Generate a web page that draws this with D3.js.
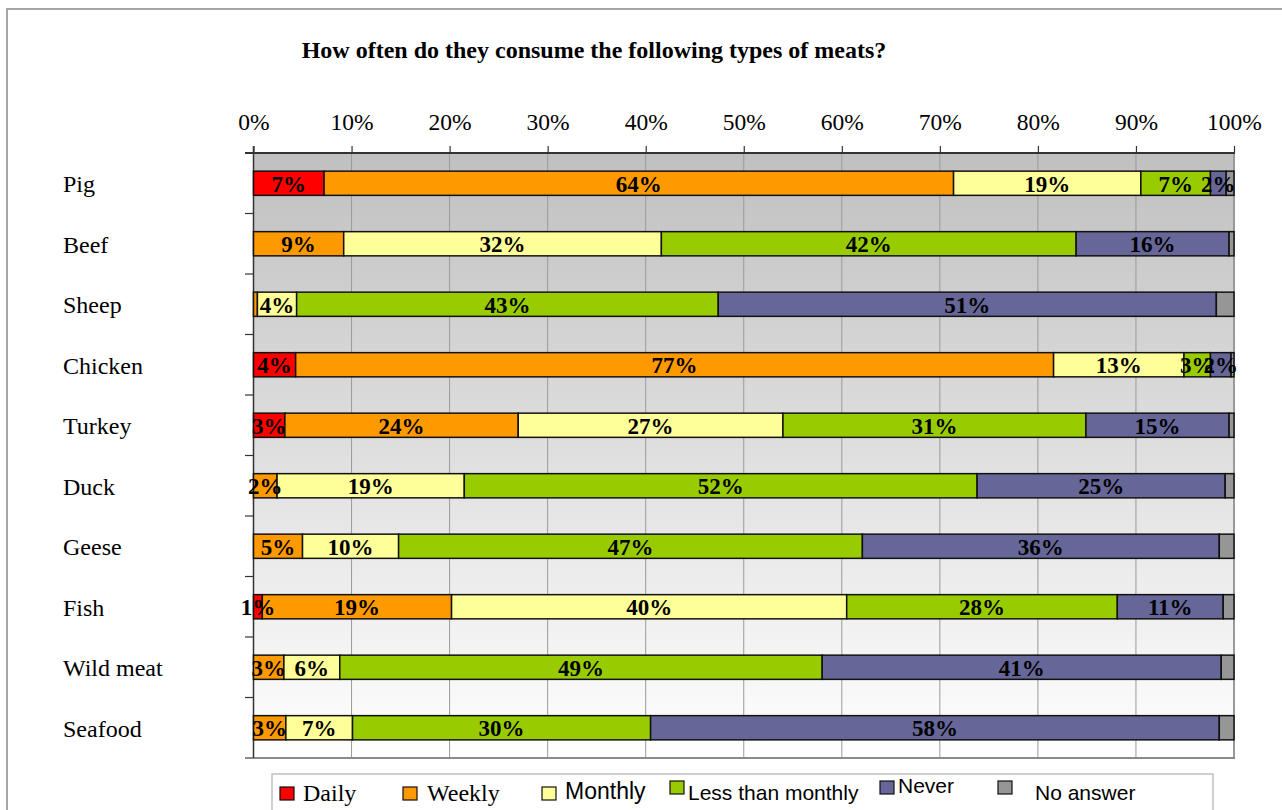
<!DOCTYPE html>
<html>
<head>
<meta charset="utf-8">
<script src="https://cdn.jsdelivr.net/npm/d3@7"></script>
<style>
  html, body { margin: 0; padding: 0; background: #fff; }
  svg { display: block; }
</style>
</head>
<body>
<svg id="chart" width="1282" height="810"></svg>
<script>
const title = "How often do they consume the following types of meats?";
const categories = ["Pig", "Beef", "Sheep", "Chicken", "Turkey", "Duck", "Geese", "Fish", "Wild meat", "Seafood"];
const seriesNames = ["Daily", "Weekly", "Monthly", "Less than monthly", "Never", "No answer"];
const daily           = [7.2, 0,    0,    4.3,  3.2,  0,    0,    0.9,  0,    0];
const weekly          = [64.2, 9.2, 0.4,  77.3, 23.8, 2.4,  5.0,  19.3, 3.1,  3.3];
const monthly         = [19.1, 32.4, 4.0, 13.3, 27.0, 19.1, 9.8,  40.3, 5.7,  6.8];
const lessThanMonthly = [7.1, 42.3, 43.0, 2.7,  30.9, 52.3, 47.3, 27.6, 49.2, 30.4];
const never           = [1.6, 15.6, 50.8, 2.1,  14.6, 25.3, 36.4, 10.8, 40.7, 58.0];
const noAnswer        = [0.8, 0.5,  1.8,  0.3,  0.5,  0.9,  1.5,  1.1,  1.3,  1.5];
const tickValues = [0, 10, 20, 30, 40, 50, 60, 70, 80, 90, 100];
const tickLabels = ["0%", "10%", "20%", "30%", "40%", "50%", "60%", "70%", "80%", "90%", "100%"];
const colors = ["#ff0000", "#ff9900", "#ffff99", "#99cc00", "#666699", "#969696"];

const seriesValues = [daily, weekly, monthly, lessThanMonthly, never, noAnswer];
const rows = categories.map((c, i) => {
  const r = { category: c };
  seriesNames.forEach((s, j) => { r[s] = seriesValues[j][i]; });
  return r;
});
const stacked = d3.stack().keys(seriesNames)(rows);

const svg = d3.select("#chart");
const serif = "'Liberation Serif', 'Times New Roman', serif";
const sans = "'Liberation Sans', Arial, sans-serif";

// outer frame
svg.append("path")
  .attr("d", "M7,812 L7,9 L1284,9")
  .attr("fill", "none").attr("stroke", "#a6a6a6").attr("stroke-width", 2);

const pLeft = 253.5, pRight = 1234, pTop = 153, pBottom = 758;
const x = d3.scaleLinear().domain([0, 100]).range([pLeft, pRight]);
const y = d3.scaleBand().domain(categories).range([pTop, pBottom]).paddingInner(0).paddingOuter(0);
const barH = y.bandwidth() * 0.4;

// plot background gradient
const defs = svg.append("defs");
const grad = defs.append("linearGradient").attr("id", "bg").attr("x1", 0).attr("y1", 0).attr("x2", 0).attr("y2", 1);
grad.append("stop").attr("offset", "0%").attr("stop-color", "#c0c0c0");
grad.append("stop").attr("offset", "100%").attr("stop-color", "#ffffff");
svg.append("rect").attr("x", pLeft).attr("y", pTop).attr("width", pRight - pLeft).attr("height", pBottom - pTop)
  .attr("fill", "url(#bg)");

// vertical gridlines
svg.append("g").selectAll("line").data(tickValues.slice(1, -1)).join("line")
  .attr("x1", d => x(d)).attr("x2", d => x(d)).attr("y1", pTop).attr("y2", pBottom)
  .attr("stroke", "#9a9a9a").attr("stroke-width", 1);

// title
svg.append("text").attr("x", 594).attr("y", 58).attr("text-anchor", "middle")
  .attr("font-family", serif).attr("font-weight", "bold").attr("font-size", 24)
  .text(title);

// top axis
const axisTop = d3.axisTop(x).tickValues(tickValues)
  .tickFormat((d, i) => tickLabels[i]).tickSize(7).tickSizeOuter(0).tickPadding(16);
const gx = svg.append("g").attr("transform", `translate(0,${pTop})`).call(axisTop);
gx.select(".domain").remove();
gx.selectAll(".tick line").attr("stroke", "#333").attr("stroke-width", 1.2);
gx.selectAll(".tick text").attr("font-family", serif).attr("font-size", 23.5).attr("fill", "#000");

// right and bottom frame
svg.append("line").attr("x1", pRight).attr("x2", pRight).attr("y1", pTop).attr("y2", pBottom)
  .attr("stroke", "#999").attr("stroke-width", 2);
svg.append("line").attr("x1", 245).attr("x2", pRight + 1).attr("y1", pBottom).attr("y2", pBottom)
  .attr("stroke", "#8a8a8a").attr("stroke-width", 2);
// top axis line
svg.append("line").attr("x1", 245).attr("x2", pRight + 1).attr("y1", pTop).attr("y2", pTop)
  .attr("stroke", "#333").attr("stroke-width", 2);
// left axis line and ticks at category boundaries
svg.append("line").attr("x1", pLeft).attr("x2", pLeft).attr("y1", pTop - 7).attr("y2", pBottom)
  .attr("stroke", "#333").attr("stroke-width", 1.5);
svg.append("g").selectAll("line").data(categories.slice(1)).join("line")
  .attr("x1", 245).attr("x2", pLeft).attr("y1", d => y(d)).attr("y2", d => y(d))
  .attr("stroke", "#333").attr("stroke-width", 1.2);

// category labels
svg.append("g").selectAll("text").data(categories).join("text")
  .attr("x", 63).attr("y", d => y(d) + y.bandwidth() / 2 + 9)
  .attr("font-family", serif).attr("font-size", 24).attr("fill", "#000")
  .text(d => d);

// bars
const gBars = svg.append("g");
stacked.forEach((layer, j) => {
  gBars.append("g").selectAll("rect").data(layer.filter(d => d[1] - d[0] > 0)).join("rect")
    .attr("x", d => x(d[0])).attr("width", d => x(d[1]) - x(d[0]))
    .attr("y", d => y(d.data.category) + (y.bandwidth() - barH) / 2)
    .attr("height", barH)
    .attr("fill", colors[j]).attr("stroke", "#111").attr("stroke-width", 1.5);
});
// value labels (not for "No answer")
const gLabels = svg.append("g");
stacked.forEach((layer, j) => {
  if (seriesNames[j] === "No answer") return;
  gLabels.append("g").selectAll("text").data(layer.filter(d => Math.round(d[1] - d[0]) >= 1)).join("text")
    .attr("x", d => (x(d[0]) + x(d[1])) / 2)
    .attr("y", d => y(d.data.category) + y.bandwidth() / 2 + 8.5)
    .attr("text-anchor", "middle")
    .attr("font-family", serif).attr("font-weight", "bold").attr("font-size", 23).attr("fill", "#000")
    .text(d => Math.round(d[1] - d[0]) + "%");
});

// legend
svg.append("rect").attr("x", 272).attr("y", 774).attr("width", 941).attr("height", 60)
  .attr("fill", "#fff").attr("stroke", "#c0c0c0").attr("stroke-width", 1.5);
const legendItems = [
  { sx: 280, sy: 787, tx: 303, ty: 801, font: serif, size: 24 },
  { sx: 403, sy: 787, tx: 427, ty: 801, font: serif, size: 24 },
  { sx: 542, sy: 787, tx: 565, ty: 799, font: sans, size: 23 },
  { sx: 670, sy: 781, tx: 688, ty: 800, font: sans, size: 21 },
  { sx: 880, sy: 781, tx: 898, ty: 793, font: sans, size: 21 },
  { sx: 998, sy: 781, tx: 1035, ty: 800, font: sans, size: 21 }
];
const gLeg = svg.append("g");
seriesNames.forEach((s, j) => {
  const it = legendItems[j];
  gLeg.append("rect").attr("x", it.sx).attr("y", it.sy).attr("width", 14).attr("height", 13)
    .attr("fill", colors[j]).attr("stroke", "#111").attr("stroke-width", 1.2);
  gLeg.append("text").attr("x", it.tx).attr("y", it.ty)
    .attr("font-family", it.font).attr("font-size", it.size).attr("fill", "#000").text(s);
});
</script>
</body>
</html>
